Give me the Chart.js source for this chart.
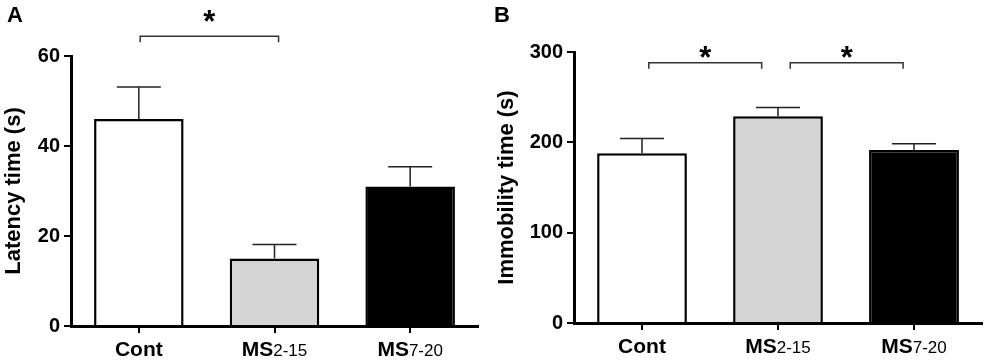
<!DOCTYPE html>
<html>
<head>
<meta charset="utf-8">
<script src="https://cdn.jsdelivr.net/npm/chart.js@4"></script>
<style>
  body { margin: 0; background: #fff; }
  #wrap { position: relative; width: 988px; height: 363px; }
  .panel { position: absolute; top: 0; width: 494px; height: 363px; }
</style>
</head>
<body>
<div id="wrap">
  <div class="panel" style="left:0"><canvas id="chartA"></canvas></div>
  <div class="panel" style="left:494px"><canvas id="chartB"></canvas></div>
</div>
<script>
var groups = ['Cont', 'MS2-15', 'MS7-20'];
var barColors = ['#ffffff', '#d4d4d4', '#000000'];

// panel A
var latencyMean = [46, 15, 31];
var latencySem = [7.1, 3.1, 4.4];
var latencyTicks = [0, 20, 40, 60];
// brackets: from/to in category index, "at" = bracket level, "star" = asterisk level (data units)
var latencySig = [{ from: 0.01, to: 1.03, at: 64.4, star: 68.9 }];

// panel B
var immobilityMean = [188, 229, 191.5];
var immobilitySem = [16.3, 9.6, 7];
var immobilityTicks = [0, 100, 200, 300];
var immobilitySig = [
  { from: 0.05, to: 0.88, at: 288, star: 300 },
  { from: 1.09, to: 1.92, at: 288, star: 300 }
];

var FONT = "'Liberation Sans', Arial, sans-serif";

var extras = {
  id: 'extras',
  afterDatasetsDraw: function (chart, args, opts) {
    var ctx = chart.ctx, x = chart.scales.x, y = chart.scales.y;
    ctx.save();
    // error bars, upper half only
    ctx.strokeStyle = '#222';
    ctx.lineWidth = 1.5;
    opts.mean.forEach(function (m, i) {
      var cx = x.getPixelForValue(i);
      var top = y.getPixelForValue(m + opts.sem[i]);
      ctx.beginPath();
      ctx.moveTo(cx, y.getPixelForValue(m));
      ctx.lineTo(cx, top);
      ctx.moveTo(cx - 22, top);
      ctx.lineTo(cx + 22, top);
      ctx.stroke();
    });
    ctx.restore();
  },
  afterDraw: function (chart, args, opts) {
    var ctx = chart.ctx, x = chart.scales.x, y = chart.scales.y;
    ctx.save();
    // significance brackets
    ctx.strokeStyle = '#333';
    ctx.lineWidth = 1.5;
    ctx.fillStyle = '#000';
    opts.sig.forEach(function (s) {
      var x1 = x.getPixelForValue(s.from), x2 = x.getPixelForValue(s.to);
      var yy = y.getPixelForValue(s.at);
      ctx.beginPath();
      ctx.moveTo(x1, yy + 6);
      ctx.lineTo(x1, yy);
      ctx.lineTo(x2, yy);
      ctx.lineTo(x2, yy + 6);
      ctx.stroke();
      ctx.font = 'bold 31px ' + FONT;
      var mt = ctx.measureText('*');
      var sy = y.getPixelForValue(s.star);
      ctx.textAlign = 'center';
      ctx.textBaseline = 'alphabetic';
      ctx.fillText('*', (x1 + x2) / 2, sy + (mt.actualBoundingBoxAscent - mt.actualBoundingBoxDescent) / 2);
    });

    // category labels with subscripts
    var base = chart.chartArea.bottom + 30;
    chart.data.labels.forEach(function (lab, i) {
      var m = lab.match(/^(\D+?)(\d.*)?$/);
      var main = m[1], sub = m[2] || '';
      ctx.font = 'bold 21px ' + FONT;
      var w1 = ctx.measureText(main).width;
      ctx.font = '17px ' + FONT;
      var w2 = ctx.measureText(sub).width;
      var sx = x.getPixelForTick(i) - (w1 + w2) / 2;
      ctx.textAlign = 'left';
      ctx.textBaseline = 'alphabetic';
      ctx.font = 'bold 21px ' + FONT;
      ctx.fillText(main, sx, base);
      ctx.font = '17px ' + FONT;
      ctx.fillText(sub, sx + w1, base);
    });

    // panel letter
    ctx.font = 'bold 22px ' + FONT;
    ctx.textAlign = 'left';
    ctx.fillText(opts.letter, opts.letterX, 22);
    ctx.restore();
  }
};

function makeChart(id, mean, sem, ticks, title, sig, box) {
  return new Chart(document.getElementById(id), {
    type: 'bar',
    data: {
      labels: groups,
      datasets: [{
        data: mean,
        backgroundColor: barColors,
        borderColor: '#000',
        borderWidth: 2.5,
        barPercentage: 0.66,
        categoryPercentage: 1
      }]
    },
    options: {
      responsive: true,
      maintainAspectRatio: false,
      animation: false,
      layout: { padding: { top: box.top, right: box.right, left: 0, bottom: 0 } },
      plugins: {
        legend: { display: false },
        tooltip: { enabled: false },
        extras: { mean: mean, sem: sem, sig: sig, letter: box.letter, letterX: box.letterX }
      },
      scales: {
        x: {
          offset: true,
          grid: { offset: false, drawOnChartArea: false, color: '#000', lineWidth: 2, tickLength: 7 },
          border: { color: '#000', width: 3 },
          ticks: { display: false },
          afterFit: function (s) { s.height = box.xh; }
        },
        y: {
          min: 0,
          max: ticks[ticks.length - 1],
          afterBuildTicks: function (s) { s.ticks = ticks.map(function (v) { return { value: v }; }); },
          grid: { drawOnChartArea: false, color: '#000', lineWidth: 2, tickLength: 7 },
          border: { color: '#000', width: 3 },
          ticks: { color: '#000', padding: 4, font: { family: FONT, size: 20, weight: 'bold' } },
          title: {
            display: true,
            text: title,
            color: '#000',
            padding: { top: box.titlePad, bottom: 0 },
            font: { family: FONT, size: 22, weight: 'bold' }
          },
          afterFit: function (s) { s.width = box.yw; }
        }
      }
    },
    plugins: [extras]
  });
}

makeChart('chartA', latencyMean, latencySem, latencyTicks, 'Latency time (s)', latencySig,
  { top: 56, right: 16, xh: 37, yw: 71, titlePad: 1, letter: 'A', letterX: 7 });
makeChart('chartB', immobilityMean, immobilitySem, immobilityTicks, 'Immobility time (s)', immobilitySig,
  { top: 52, right: 6, xh: 40, yw: 80, titlePad: 0, letter: 'B', letterX: 0 });
</script>
</body>
</html>
